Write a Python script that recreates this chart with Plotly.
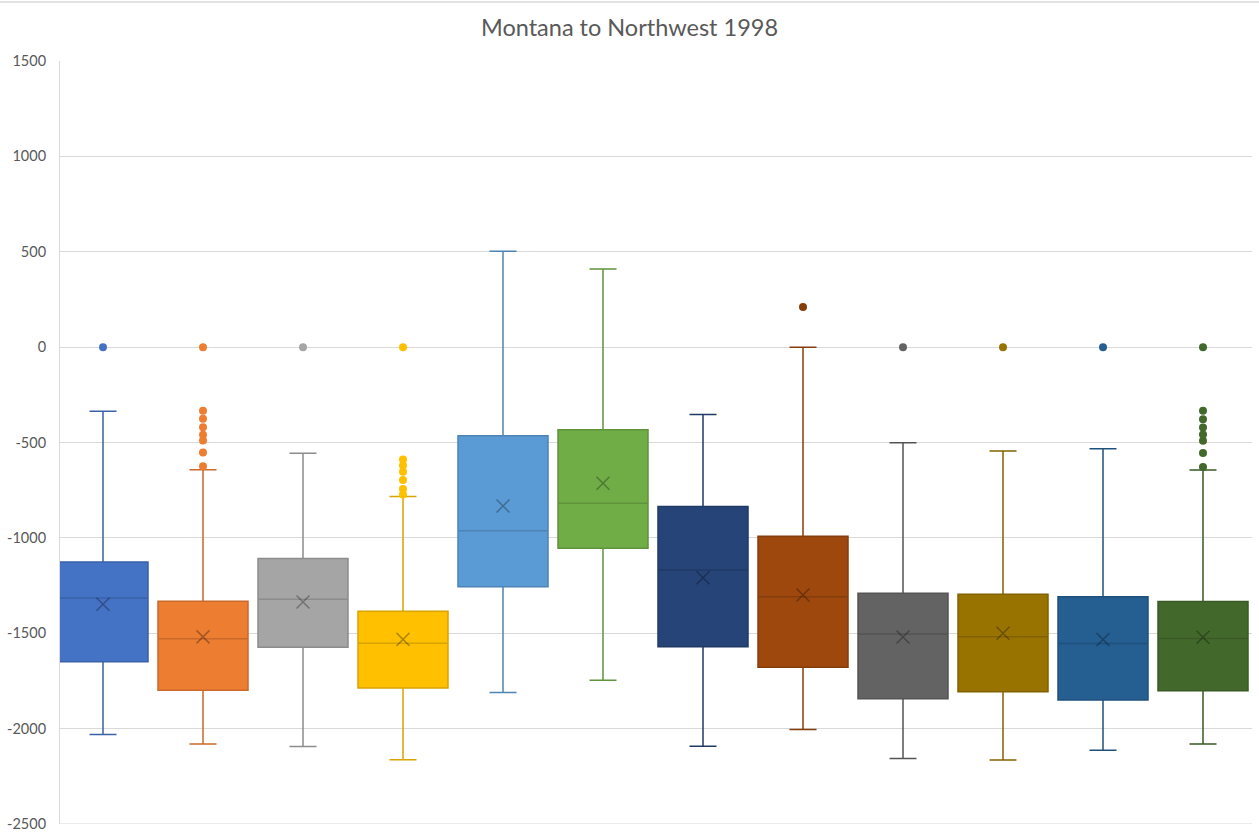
import plotly.graph_objects as go

# Box statistics for each of the twelve series
colors = ["#4472C4", "#ED7D31", "#A5A5A5", "#FFC000", "#5B9BD5", "#70AD47",
          "#264478", "#9E480E", "#636363", "#997300", "#255E91", "#43682B"]
edge_colors = ["#3A62A8", "#C9692A", "#8C8C8C", "#D9A300", "#4D84B5", "#5F933C",
               "#203A66", "#863D0C", "#545454", "#826200", "#1F507B", "#395925"]

q1 = [-1650, -1799, -1573, -1787, -1256, -1054, -1571, -1678, -1843, -1807, -1850, -1801]
median = [-1315, -1529, -1322, -1552, -962, -818, -1168, -1308, -1504, -1518, -1554, -1528]
q3 = [-1127, -1332, -1108, -1385, -465, -433, -835, -992, -1290, -1295, -1309, -1333]
lower = [-2031, -2081, -2094, -2163, -1811, -1747, -2093, -2005, -2157, -2164, -2113, -2080]
upper = [-336, -643, -557, -783, 503, 409, -353, 0, -501, -545, -533, -644]
mean = [-1348, -1519, -1336, -1532, -833, -714, -1209, -1299, -1520, -1500, -1533, -1521]
outliers = [
    [0],
    [0, -333, -376, -420, -460, -490, -552, -625],
    [0],
    [0, -589, -620, -653, -697, -744, -772],
    [],
    [],
    [],
    [211],
    [0],
    [0],
    [0],
    [0, -334, -378, -421, -458, -491, -555, -628],
]

fig = go.Figure()

for i in range(len(colors)):
    fig.add_trace(go.Box(
        x=[i], q1=[q1[i]], median=[median[i]], q3=[q3[i]],
        lowerfence=[lower[i]], upperfence=[upper[i]],
        width=0.9, whiskerwidth=0.3,
        fillcolor=colors[i],
        line=dict(color=edge_colors[i], width=1.5),
        boxpoints=False, showlegend=False, hoverinfo="y",
    ))
    fig.add_trace(go.Scatter(
        x=[i], y=[mean[i]], mode="markers",
        marker=dict(symbol="x-thin-open", size=13, color="rgba(0,0,0,0.3)",
                    line=dict(color="rgba(0,0,0,0.3)", width=1.5)),
        showlegend=False, hoverinfo="y",
    ))
    if outliers[i]:
        fig.add_trace(go.Scatter(
            x=[i] * len(outliers[i]), y=outliers[i], mode="markers",
            marker=dict(symbol="circle", size=8, color=colors[i] if i != 7 else edge_colors[i]),
            showlegend=False, hoverinfo="y",
        ))

# thin border line along the top of the chart area
fig.add_shape(type="line", xref="paper", yref="paper",
              x0=-60 / 1192, x1=1 + 7 / 1192, y0=1 + 59 / 763, y1=1 + 59 / 763,
              line=dict(color="#D9D9D9", width=1.5))
# gridline at the bottom of the value range
fig.add_shape(type="line", xref="paper", yref="y", x0=0, x1=1, y0=-2500, y1=-2500,
              line=dict(color="#D9D9D9", width=1), layer="below")

fig.update_layout(
    width=1259, height=839,
    margin=dict(l=60, r=7, t=61, b=15, autoexpand=False),
    paper_bgcolor="white", plot_bgcolor="white",
    boxmode="overlay",
    title=dict(text="Montana to Northwest 1998", x=0.5, xanchor="center",
               y=1 - 28 / 839, yanchor="middle",
               font=dict(family="Lato, Open Sans, sans-serif", size=23.5, color="#595959")),
    xaxis=dict(range=[-0.43, 11.49], showticklabels=False, showgrid=False,
               zeroline=False, ticks="", showline=False, fixedrange=True,
               automargin=False),
    yaxis=dict(range=[-2500, 1500], tickmode="array",
               tickvals=[1500, 1000, 500, 0, -500, -1000, -1500, -2000, -2500],
               ticktext=["1500", "1000", "500", "0", "-500", "-1000", "-1500", "-2000", "-2500"],
               showgrid=True, gridcolor="#D9D9D9", gridwidth=1,
               zeroline=False, showline=True, linecolor="#D9D9D9", linewidth=1,
               ticks="", ticklabelstandoff=10, automargin=False,
               tickfont=dict(family="Lato, Open Sans, sans-serif", size=14.5, color="#595959")),
    font=dict(family="Lato, Open Sans, sans-serif", color="#595959"),
)

fig.write_html("out.html")
